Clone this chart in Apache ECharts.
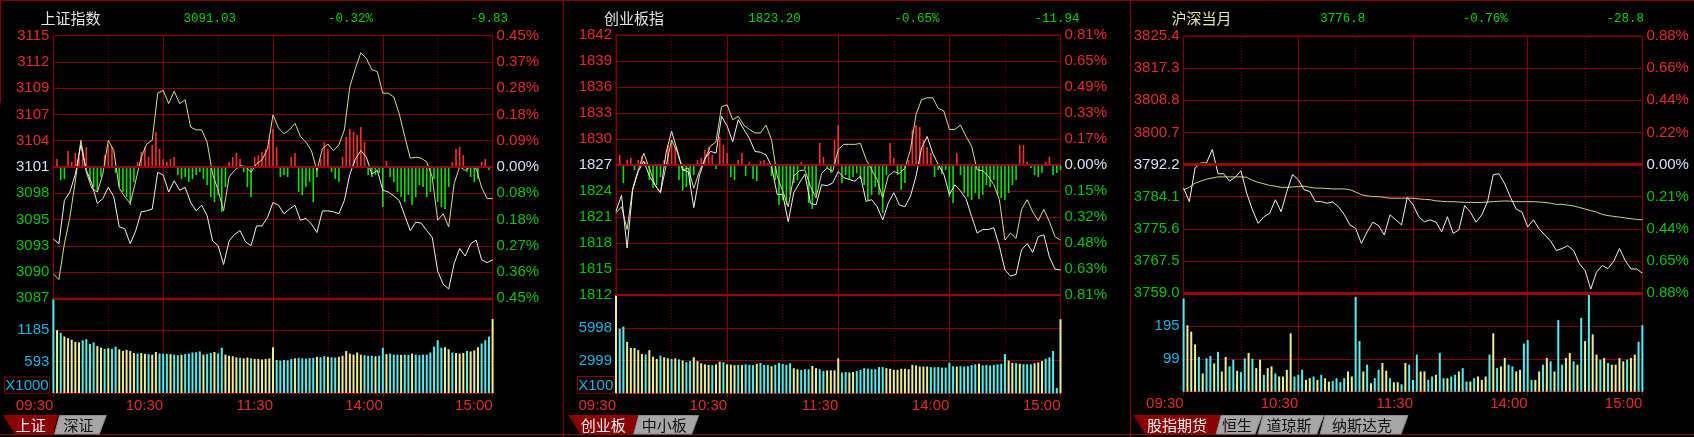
<!DOCTYPE html>
<html><head><meta charset="utf-8">
<script src="https://cdn.jsdelivr.net/npm/echarts@6/dist/echarts.min.js"></script>
<style>html,body{margin:0;padding:0;background:#000;overflow:hidden}#c{width:1694px;height:437px}</style>
</head><body><div id="c"></div>
<script>
// ---------------- DATA ----------------
const TIME_LABELS = ['09:30','10:30','11:30','14:00','15:00'];

// Panel 1: 上证指数 (price & leading index sampled every 3 min, bars every 2 min)
const P1_QUOTE = ['3091.03','-0.32%','-9.83'];
const P1_LEFT  = ['3087','3090','3093','3095','3098','3101','3104','3107','3109','3112','3115'];
const P1_RIGHT = ['0.45%','0.36%','0.27%','0.18%','0.08%','0.00%','0.09%','0.18%','0.28%','0.37%','0.45%'];
const P1_PRICE = [3093.2,3092.7,3097.3,3098.2,3100.1,3103.2,3100.5,3099.1,3097.0,3097.5,
 3098.7,3097.7,3094.5,3094.3,3092.7,3094.1,3096.1,3096.2,3096.4,3100.3,
 3100.0,3098.2,3099.4,3098.4,3098.7,3097.1,3096.2,3096.8,3095.7,3093.0,
 3092.5,3090.5,3093.0,3093.7,3094.1,3092.9,3092.5,3094.6,3094.6,3095.5,
 3097.1,3096.8,3095.9,3096.4,3096.8,3095.2,3095.4,3094.8,3093.9,3096.2,
 3096.2,3096.1,3095.9,3097.3,3100.1,3101.7,3102.6,3101.9,3100.1,3100.5,
 3098.4,3098.2,3097.8,3097.3,3095.7,3094.1,3095.0,3094.9,3094.1,3093.4,
 3089.8,3088.4,3087.9,3090.6,3092.2,3091.4,3092.7,3093.1,3091.0,3090.7,
 3091.0];
const P1_LEAD = [3089.5,3088.9,3092.7,3095.5,3099.4,3103.7,3100.3,3098.6,3098.2,3100.1,
 3103.7,3102.6,3098.6,3097.7,3097.0,3099.4,3101.9,3103.3,3103.7,3108.7,
 3109.0,3107.6,3108.9,3107.6,3108.0,3105.1,3104.8,3104.8,3103.5,3100.1,
 3098.4,3096.2,3099.8,3100.5,3101.0,3100.9,3100.3,3101.2,3101.6,3102.8,
 3106.4,3105.0,3104.4,3104.8,3105.5,3104.1,3103.5,3102.6,3100.5,3102.8,
 3103.3,3102.6,3103.2,3104.8,3109.4,3111.3,3113.0,3112.4,3111.2,3111.0,
 3108.7,3108.7,3108.3,3106.5,3104.1,3101.8,3101.9,3101.8,3101.4,3099.8,
 3095.2,3095.9,3094.5,3099.1,3100.9,3100.5,3100.9,3100.7,3098.7,3097.5,
 3097.5];
const P1_BREADTH = [0,8,-13,-12,16,5,14,10,17,20, -15,-20,-25,-10,12,22,20,-6,-20,-25,
 -30,-38,-15,5,15,20,10,22,35,18, 8,5,8,10,-8,-12,-10,-15,-12,-8,
 -5,-12,-18,-30,-35,-28,-45,-20,5,10, 14,8,-5,-20,-30,10,12,15,18,28,
 38,20,-10,-8,-10,10,14,-25,-28,-20, -15,-35,-10,8,25,18,-5,-12,-15,10,
 30,38,35,32,40,25,-8,-10,-8,-6, -40,6,-10,-15,-25,-30,-35,-28,-38,-30,
 -18,-20,-30,-25,-12,-35,-40,-42,-20,5, 18,20,12,-5,-10,-15,-12,5,8,-3, 0];
const P1_VOL = [1770,1180,1130,1060,1030,1000,960,950,990,1010,
 920,950,880,850,830,840,830,870,820,790,
 810,790,750,740,750,735,730,720,770,740,
 740,735,730,720,710,720,730,740,760,765,
 780,720,730,750,770,745,850,720,700,690,
 670,660,650,665,650,640,640,630,640,650,
 860,620,610,620,615,640,650,660,650,645,
 655,660,680,670,690,680,670,665,680,700,
 790,740,720,760,720,710,700,700,690,700,
 850,730,740,720,720,715,720,715,740,720,
 710,720,720,760,870,990,850,860,820,760,
 750,740,750,790,780,800,860,930,990,1060,
 1390];
const P1_VOL_FLAGS = 'cycyyyyycc'+'ccyycyccyy'+'yyycyycyyc'+'ccyccycccc'+'cyccyccyyy'+'ycyycyyyyy'+
 'ycccccyccc'+'ccyccyccyy'+'yyyyycccyc'+'cycccyccyc'+'cccccccyyc'+'yyycyyyccc'+'y';
const P1_VOL_LABELS = ['','593','1185',''];
const P1_TABS = ['上证','深证'];

// Panel 2: 创业板指
const P2_QUOTE = ['1823.20','-0.65%','-11.94'];
const P2_LEFT  = ['1812','1815','1818','1821','1824','1827','1830','1833','1836','1839','1842'];
const P2_RIGHT = ['0.81%','0.63%','0.48%','0.32%','0.15%','0.00%','0.17%','0.33%','0.49%','0.65%','0.81%'];
const P2_PRICE = [1821.7,1823.5,1817.5,1824.1,1826.2,1827.4,1825.7,1824.7,1823.8,1828.3,
 1830.8,1828.7,1826.4,1826.2,1822.1,1825.7,1827.7,1828.5,1828.3,1832.5,
 1831.4,1829.6,1832.1,1831.0,1830.0,1828.5,1828.4,1828.1,1826.8,1823.6,
 1823.6,1820.5,1823.8,1824.9,1825.9,1822.6,1822.4,1824.7,1824.6,1824.9,
 1826.2,1825.5,1825.3,1825.1,1825.7,1822.8,1823.0,1822.2,1820.7,1822.6,
 1823.8,1822.4,1822.2,1823.4,1825.7,1828.9,1830.2,1828.3,1827.0,1825.9,
 1823.6,1824.7,1824.0,1823.1,1821.1,1819.2,1819.6,1819.6,1819.8,1817.7,
 1815.0,1814.3,1814.5,1817.3,1818.0,1817.0,1818.8,1819.0,1816.5,1815.1,
 1815.0];
const P2_LEAD = [1821.5,1822.2,1819.6,1824.3,1826.4,1828.3,1826.6,1824.7,1823.8,1826.8,
 1829.8,1828.5,1826.4,1826.6,1824.3,1826.2,1827.6,1829.1,1829.6,1833.6,
 1833.8,1832.1,1832.5,1831.5,1831.0,1830.6,1830.6,1831.5,1829.8,1825.7,
 1824.0,1822.2,1825.7,1826.3,1826.4,1824.5,1823.2,1826.0,1826.6,1826.2,
 1828.7,1829.3,1829.3,1829.3,1829.4,1827.6,1826.4,1825.3,1823.2,1825.7,
 1826.2,1826.0,1826.6,1828.7,1832.7,1834.4,1834.6,1834.6,1833.4,1833.1,
 1831.0,1831.0,1831.5,1830.2,1829.1,1826.4,1826.3,1825.7,1824.7,1823.0,
 1818.4,1819.2,1818.6,1821.9,1823.0,1821.6,1820.6,1821.9,1820.5,1818.8,
 1818.4];
const P2_BREADTH = [0,10,-18,5,7,-5,5,9,3,-15, -23,-20,-12,5,20,25,18,-15,-26,-22,
 -20,-10,5,7,15,18,10,-4,28,20, 12,-12,-15,5,12,-11,3,-14,-16,4,
 5,2,-11,-15,-40,-35,-40,-30,-18,-15, 3,-4,-38,-44,-30,22,8,-3,-8,25,
 40,-18,-10,-15,-12,-8,-14,-20,-35,-30, -22,-30,-48,-10,22,7,-10,-25,-18,5,
 35,40,38,25,18,12,-12,-5,-9,-5, -32,-38,12,-10,-28,-32,-35,-28,-34,-30,
 -20,-22,-15,-30,-33,-35,-28,-20,-15,20, 20,3,-3,-10,-12,-8,3,8,-10,-8, -5];
const P2_VOL = [8950,5900,6100,4700,4150,4150,3950,3600,3550,3950,
 3350,3150,3450,3300,3200,3150,3200,3100,3000,2850,
 2950,3300,2950,2750,2650,2600,2580,2650,2900,2850,
 2650,2620,2580,2600,2580,2650,2600,2580,2700,2780,
 2600,2580,2480,2600,2780,2680,2600,2750,2300,2200,
 2150,2200,2200,2500,2300,2200,2050,2100,2100,2100,
 3200,1900,1950,1900,1950,2050,2150,2300,2250,2200,
 2200,2400,2400,2300,2250,2150,2150,2250,2250,2200,
 2600,2550,2450,2450,2450,2400,2380,2400,2350,2350,
 2800,2480,2450,2480,2450,2480,2580,2650,2700,2550,
 2600,2550,2600,2650,2700,3600,3000,2780,2750,2700,
 2650,2650,2650,2750,2830,2950,3150,3300,3880,480,
 6780];
const P2_VOL_FLAGS = 'yccyyyyycy'+'yycyycycyc'+'cyyyyycyyc'+'yyycycccyc'+'ccycccccyy'+'cccyyccyyy'+
 'yccyyccccc'+'cccyyyyyyy'+'yyyyyccccc'+'ccycccccyc'+'ccccccyycy'+'cccyyycccc'+'y';
const P2_VOL_LABELS = ['','2999','5998',''];
const P2_TABS = ['创业板','中小板'];

// Panel 3: 沪深当月 (price & average price)
const P3_QUOTE = ['3776.8','-0.76%','-28.8'];
const P3_LEFT  = ['3759.0','3767.5','3775.6','3784.1','3792.2','3800.7','3808.8','3817.3','3825.4'];
const P3_RIGHT = ['0.88%','0.65%','0.44%','0.21%','0.00%','0.22%','0.44%','0.66%','0.88%'];
const P3_PRICE = [3786.1,3782.6,3791.3,3792.6,3792.6,3796.1,3789.8,3789.8,3787.9,3788.9,
 3790.6,3784.8,3780.5,3777.0,3778.7,3779.6,3783.1,3780.0,3785.2,3789.6,
 3788.3,3785.7,3785.2,3782.6,3782.6,3782.2,3782.5,3781.3,3779.3,3776.6,
 3775.7,3771.8,3774.8,3777.3,3776.4,3774.0,3779.2,3777.9,3776.6,3783.7,
 3781.8,3778.7,3777.4,3777.9,3777.3,3774.8,3778.7,3774.4,3775.3,3781.6,
 3779.9,3777.3,3779.2,3782.6,3789.6,3789.8,3787.2,3783.7,3780.7,3779.9,
 3776.1,3777.9,3775.5,3774.0,3772.4,3770.0,3770.5,3771.2,3770.0,3766.6,
 3764.8,3760.0,3764.4,3766.1,3765.3,3767.2,3770.5,3767.4,3765.2,3765.2,
 3764.1];
const P3_AVG = [3785.7,3786.3,3787.4,3787.9,3788.4,3788.7,3789.0,3789.0,3789.0,3789.0,
 3789.0,3788.9,3788.1,3787.6,3787.2,3786.8,3786.6,3786.3,3786.3,3786.4,
 3786.5,3786.6,3786.3,3786.1,3786.1,3786.0,3785.9,3785.9,3785.9,3785.7,
 3785.1,3784.4,3784.1,3783.9,3783.9,3783.7,3783.5,3783.5,3783.5,3783.5,
 3783.5,3783.3,3783.2,3783.1,3782.8,3782.7,3782.6,3782.6,3782.5,3782.4,
 3782.4,3782.4,3782.4,3782.5,3782.6,3782.7,3782.8,3782.7,3782.6,3782.6,
 3782.6,3782.6,3782.5,3782.4,3782.2,3781.9,3781.9,3781.7,3781.5,3781.1,
 3780.7,3780.3,3779.9,3779.3,3779.0,3778.8,3778.6,3778.4,3778.2,3778.0,
 3777.9];
const P3_VOL = [276,197,178,140,103,54,99,106,84,118,
 60,103,75,95,62,58,99,115,98,70,
 95,50,70,75,54,45,45,65,173,45,
 50,65,35,40,45,35,50,40,30,32,
 40,28,40,60,45,281,150,60,80,25,
 40,65,85,62,40,28,28,22,85,80,
 35,110,60,60,35,45,50,115,40,40,
 45,50,60,70,30,30,40,45,35,45,
 110,173,70,75,100,80,75,60,65,143,
 153,35,35,60,80,100,90,60,212,80,
 100,115,90,80,219,150,292,170,110,95,
 100,85,80,80,100,90,95,100,110,148,
 197];
const P3_VOL_FLAGS = 'cyyycyccyc'+'yyccyccycy'+'ycyycyyyyc'+'ccyycycyyc'+'cccyyccycy'+'ccyycyycyc'+
 'ccyyccyccy'+'ccyccycyyy'+'cycyyccyyc'+'ccyycycycc'+'yycycycyyc'+'ycyyyycyyc'+'c';
const P3_VOL_LABELS = ['','99','195',''];
const P3_TABS = ['股指期货','恒生','道琼斯','纳斯达克'];

// ---------------- STYLE / LAYOUT ----------------
const GRID_RED = '#860000', ZERO_RED = '#a00000';
const LBL_RED = '#e62a2a', LBL_GREEN = '#00c400', LBL_ZERO = '#d4e0f6', LBL_CYAN = '#16b4e4';
const WHITE_LINE = '#f0f0f0', BAR_RED = '#ff2c2c', BAR_GREEN = '#00e600';
const VOL_Y = '#eeee8c', VOL_C = '#4cf0f0', QUOTE_GREEN = '#00d400';
const NUM_FONT = '"Liberation Sans", Arial, sans-serif';
const CJK_FONT = '"Noto Sans CJK SC", sans-serif';
const MONO_FONT = '"Liberation Mono", "DejaVu Sans Mono", monospace';

const PANELS = [
 {title:'上证指数', titleColor:'#e4e4e4', quote:P1_QUOTE, p0:3100.86, step:2.79, half:5, left:P1_LEFT, right:P1_RIGHT,
  price:P1_PRICE, lead:P1_LEAD, leadColor:'#dcdc88', breadth:P1_BREADTH, breadthSpan:131,
  vol:P1_VOL, flags:P1_VOL_FLAGS, volMax:1777.5, volLabels:P1_VOL_LABELS, unit:'X1000', tabs:P1_TABS, zeroW:2},
 {title:'创业板指', titleColor:'#e4e4e4', quote:P2_QUOTE, p0:1826.95, step:2.96, half:5, left:P2_LEFT, right:P2_RIGHT,
  price:P2_PRICE, lead:P2_LEAD, leadColor:'#dcdc88', breadth:P2_BREADTH, breadthSpan:130,
  vol:P2_VOL, flags:P2_VOL_FLAGS, volMax:8997, volLabels:P2_VOL_LABELS, unit:'X100', tabs:P2_TABS, zeroW:2},
 {title:'沪深当月', titleColor:'#e6e6a4', quote:P3_QUOTE, p0:3792.2, step:8.3, half:4, left:P3_LEFT, right:P3_RIGHT,
  price:P3_PRICE, lead:P3_AVG, leadColor:'#d2d27a', breadth:null,
  vol:P3_VOL, flags:P3_VOL_FLAGS, volMax:292.5, volLabels:P3_VOL_LABELS, unit:null, tabs:P3_TABS, zeroW:3}
];
const LAYOUT = [
 {left:53.4, width:439.2, top:35.7, priceH:262.6, volH:94.7, title:40.4, q:[236,373,508], unitBox:[4.5,377,45,16.3], tabs:[[3.6,57.7],[59.5,106.3]]},
 {left:616, width:444.5, top:35, priceH:260, volH:98.3, title:604, q:[800.7,939.5,1079.6], unitBox:[577.5,376.5,36.5,16.8], tabs:[[569,637.5],[638.6,698.7]]},
 {left:1183.6, width:458.8, top:36, priceH:257, volH:98.7, title:1171.4, q:[1365.2,1507.8,1643.9], unitBox:null, tabs:[[1134,1220],[1221,1262],[1263,1323.8],[1325,1408]]}
];
const TAB_TOP = 415.5, TAB_BOT = 434;

// ---------------- BUILD ----------------
const grid=[], xAxis=[], yAxis=[], series=[], graphic=[];
PANELS.forEach((P, pi) => {
  const L = LAYOUT[pi];
  const gP = grid.length;
  grid.push({left:L.left, top:L.top, width:L.width, height:L.priceH, show:true, borderColor:GRID_RED, borderWidth:1, backgroundColor:'transparent'});
  const gV = grid.length;
  grid.push({left:L.left, top:L.top+L.priceH, width:L.width, height:L.volH, show:true, borderColor:GRID_RED, borderWidth:1, backgroundColor:'transparent'});
  const xs = {};
  [gP, gV].forEach(g => {
    const isVol = g === gV;
    xAxis.push({type:'value', gridIndex:g, position:'bottom', min:0, max:240, interval:30,
      axisLine:{show:false}, axisTick:{show:false}, axisLabel:{show:false},
      splitLine:{show:true, lineStyle:{color:GRID_RED, width:1, type:[1,2]}}});
    xs[g] = xAxis.length;
    xAxis.push({type:'value', gridIndex:g, position:'bottom', min:0, max:240, interval:60,
      axisLine:{show:false},
      axisTick:{show:isVol, length:4, lineStyle:{color:GRID_RED}},
      axisLabel: isVol ? {show:true, formatter:v => TIME_LABELS[Math.round(v/60)], align:'right',
        color:LBL_RED, fontSize:15, fontFamily:NUM_FONT, margin:5, showMinLabel:true, showMaxLabel:true} : {show:false},
      splitLine:{show:true, lineStyle:{color:GRID_RED, width:1}}});
  });
  const colorFor = idx => idx < P.half ? LBL_GREEN : (idx === P.half ? LBL_ZERO : LBL_RED);
  const yL = yAxis.length;
  yAxis.push({type:'value', gridIndex:gP, position:'left', min:-P.half, max:P.half, interval:1,
    axisLine:{show:false}, axisTick:{show:false},
    splitLine:{show:true, lineStyle:{color:GRID_RED, width:1}},
    axisLabel:{formatter:v => P.left[Math.round(Number(v)) + P.half], color:v => colorFor(Math.round(Number(v)) + P.half),
      fontSize:15, fontFamily:NUM_FONT, margin:4, showMinLabel:true, showMaxLabel:true}});
  yAxis.push({type:'value', gridIndex:gP, position:'right', min:-P.half, max:P.half, interval:1,
    axisLine:{show:false}, axisTick:{show:false}, splitLine:{show:false},
    axisLabel:{formatter:v => P.right[Math.round(Number(v)) + P.half], color:v => colorFor(Math.round(Number(v)) + P.half),
      fontSize:15, fontFamily:NUM_FONT, margin:4, showMinLabel:true, showMaxLabel:true}});
  let yB = null;
  if (P.breadth) {
    yB = yAxis.length;
    yAxis.push({type:'value', gridIndex:gP, position:'left', min:-P.breadthSpan, max:P.breadthSpan, show:false, splitLine:{show:false}});
  }
  const yV = yAxis.length;
  const vi = P.volMax / 3;
  yAxis.push({type:'value', gridIndex:gV, position:'left', min:0, max:P.volMax, interval:vi,
    axisLine:{show:false}, axisTick:{show:false},
    splitLine:{show:true, lineStyle:{color:GRID_RED, width:1}},
    axisLabel:{formatter:v => P.volLabels[Math.round(Number(v)/vi)] || '', color:LBL_CYAN, fontSize:15, fontFamily:NUM_FONT, margin:4,
      showMinLabel:true, showMaxLabel:true}});

  const toStep = v => (v - P.p0) / P.step;
  const zeroLine = {silent:true, symbol:['none','none'], label:{show:false}, animation:false,
    lineStyle:{color:ZERO_RED, width:P.zeroW, type:'solid'}, data:[{yAxis:0}]};
  if (P.breadth) {
    series.push({type:'bar', xAxisIndex:xs[gP], yAxisIndex:yB, barWidth:1.6, silent:true, z:2,
      data:P.breadth.map((v,i) => [i*2, v]),
      itemStyle:{color:p => p.value[1] >= 0 ? BAR_RED : BAR_GREEN},
      markLine:zeroLine});
  }
  series.push({type:'line', xAxisIndex:xs[gP], yAxisIndex:yL, showSymbol:false, symbol:'none', silent:true, z:3,
    data:P.lead.map((v,i) => [i*3, toStep(v)]), lineStyle:{color:P.leadColor, width:1},
    markLine: P.breadth ? undefined : zeroLine});
  series.push({type:'line', xAxisIndex:xs[gP], yAxisIndex:yL, showSymbol:false, symbol:'none', silent:true, z:4,
    data:P.price.map((v,i) => [i*3, toStep(v)]), lineStyle:{color:WHITE_LINE, width:1}});
  series.push({type:'bar', xAxisIndex:xs[gV], yAxisIndex:yV, barWidth:2, silent:true, z:2,
    data:P.vol.map((v,i) => [i*2, v]),
    itemStyle:{color:p => P.flags[p.dataIndex] === 'y' ? VOL_Y : VOL_C},
    markLine:{silent:true, symbol:['none','none'], label:{show:false}, animation:false,
      lineStyle:{color:ZERO_RED, width:P.zeroW, type:'solid'}, data:[{yAxis:P.volMax}]}});

  // header
  graphic.push({type:'text', x:L.title, y:18, z:50, style:{text:P.title, fill:P.titleColor, font:'15px ' + CJK_FONT, align:'left', verticalAlign:'middle'}});
  P.quote.forEach((q, qi) => {
    graphic.push({type:'text', x:L.q[qi], y:18.5, z:50, style:{text:q, fill:QUOTE_GREEN, font:'12.5px ' + MONO_FONT, align:'right', verticalAlign:'middle'}});
  });
  // unit box
  if (P.unit && L.unitBox) {
    const b = L.unitBox;
    graphic.push({type:'rect', z:50, shape:{x:b[0], y:b[1], width:b[2], height:b[3]}, style:{fill:'none', stroke:GRID_RED, lineWidth:1}});
    graphic.push({type:'text', z:51, x:b[0]+b[2]/2, y:b[1]+b[3]/2+0.5, style:{text:P.unit, fill:LBL_CYAN, font:'15px ' + NUM_FONT, align:'center', verticalAlign:'middle'}});
  }
  // tabs
  P.tabs.forEach((t, ti) => {
    const [x0, x1] = L.tabs[ti];
    const active = ti === 0;
    const pts = active ? [[x0,TAB_TOP],[x1,TAB_TOP],[x1-5,TAB_BOT],[x0+12,TAB_BOT]]
                       : [[x0,TAB_TOP],[x1,TAB_TOP],[x1-7,TAB_BOT],[x0-5,TAB_BOT]];
    graphic.push({type:'polygon', z:40, shape:{points:pts}, style:{fill:active ? '#8c0000' : '#a6a6a6', stroke:active ? '#8c0000' : '#8a8a8a', lineWidth:1}});
    graphic.push({type:'text', z:41, x:(x0+x1)/2 - (active ? 0 : 4.5), y:(TAB_TOP+TAB_BOT)/2 + 0.5,
      style:{text:t, fill:active ? '#f4f4f4' : '#101010', font:'15px ' + CJK_FONT, align:'center', verticalAlign:'middle'}});
  });
});
// frame lines
[[0,0.5,1694,0.5],[563.5,0,563.5,437],[1130.5,0,1130.5,437],[0,434.5,1694,434.5],[0.5,0,0.5,103]].forEach(l => {
  graphic.push({type:'line', z:30, shape:{x1:l[0], y1:l[1], x2:l[2], y2:l[3]}, style:{stroke:GRID_RED, lineWidth:1}});
});

const chart = echarts.init(document.getElementById('c'), null, {renderer:'canvas', width:1694, height:437});
chart.setOption({backgroundColor:'#000', animation:false, grid, xAxis, yAxis, series, graphic});
</script></body></html>
